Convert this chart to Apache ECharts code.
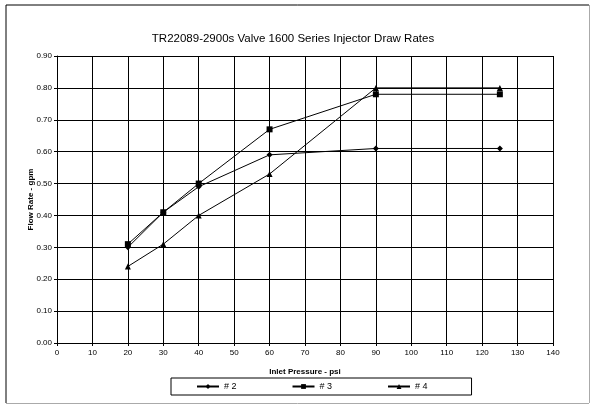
<!DOCTYPE html>
<html>
<head>
<meta charset="utf-8">
<script src="https://cdn.jsdelivr.net/npm/echarts@6/dist/echarts.min.js"></script>
<style>
  html, body { margin: 0; padding: 0; background: #fff; }
  #chart { width: 595px; height: 408px; }
</style>
</head>
<body>
<div id="chart"></div>
<script>
// inlet pressure (psi) for each measured point
const pressure = [20, 30, 40, 60, 90, 125];
// flow rate (gpm) per injector
const flow2 = [0.30, 0.41, 0.49, 0.59, 0.61, 0.61];
const flow3 = [0.31, 0.41, 0.50, 0.67, 0.78, 0.78];
const flow4 = [0.24, 0.31, 0.40, 0.53, 0.80, 0.80];
const seriesNames = ['# 2', '# 3', '# 4'];

const pairs = (ys) => pressure.map((x, i) => [x, ys[i]]);

let chart = echarts.init(document.getElementById('chart'));
const font = 'Liberation Sans, Arial, sans-serif';

function lineSeries(name, data, symbol, size) {
  return {
    name: name,
    type: 'line',
    data: pairs(data),
    symbol: symbol,
    symbolSize: size,
    showAllSymbol: true,
    lineStyle: { color: '#000', width: 1 },
    itemStyle: { color: '#000' },
    animation: false
  };
}

let option = {
  backgroundColor: '#fff',
  animation: false,
  title: {
    text: 'TR22089-2900s Valve 1600 Series Injector Draw Rates',
    left: 288,
    textAlign: 'center',
    top: 28,
    textStyle: { fontFamily: font, fontSize: 11.5, fontWeight: 'normal', color: '#000' }
  },
  legend: {
    data: seriesNames,
    top: 378,
    left: 171,
    borderColor: '#000',
    borderWidth: 1,
    borderRadius: 0,
    padding: [4, 44, 4, 25],
    itemGap: 55,
    itemWidth: 22,
    itemHeight: 6,
    textStyle: { fontFamily: font, fontSize: 9, color: '#000' }
  },
  grid: { left: 57, right: 42, top: 56, bottom: 65 },
  xAxis: {
    type: 'value',
    min: 0, max: 140, interval: 10,
    name: 'Inlet Pressure - psi',
    nameLocation: 'middle',
    nameGap: 25,
    nameMoveOverlap: false,
    nameTextStyle: { fontFamily: font, fontSize: 8, fontWeight: 'bold', color: '#000' },
    axisLine: { lineStyle: { color: '#000', width: 1 } },
    axisTick: { show: true, length: 3, lineStyle: { color: '#000' } },
    axisLabel: { fontFamily: font, fontSize: 8, color: '#000', margin: 6 },
    splitLine: { show: true, lineStyle: { color: '#000', width: 1 } }
  },
  yAxis: {
    type: 'value',
    min: 0, max: 0.9, interval: 0.1,
    name: 'Flow Rate - gpm',
    nameLocation: 'middle',
    nameGap: 22,
    nameMoveOverlap: false,
    nameTextStyle: { fontFamily: font, fontSize: 8, fontWeight: 'bold', color: '#000' },
    axisLine: { show: true, lineStyle: { color: '#000', width: 1 } },
    axisTick: { show: true, length: 3, lineStyle: { color: '#000' } },
    axisLabel: { fontFamily: font, fontSize: 8, color: '#000', margin: 5,
      formatter: (v) => v.toFixed(2) },
    splitLine: { show: true, lineStyle: { color: '#000', width: 1 } }
  },
  graphic: [
    { type: 'line', shape: { x1: 6, y1: 5, x2: 589, y2: 5 }, style: { stroke: '#000', lineWidth: 1 } },
    { type: 'line', shape: { x1: 6, y1: 5, x2: 6, y2: 403 }, style: { stroke: '#000', lineWidth: 1 } },
    { type: 'line', shape: { x1: 6, y1: 403.5, x2: 589, y2: 403.5 }, style: { stroke: '#aaa', lineWidth: 1 } },
    { type: 'line', shape: { x1: 589.5, y1: 5, x2: 589.5, y2: 403 }, style: { stroke: '#aaa', lineWidth: 1 } }
  ],
  series: [
    lineSeries(seriesNames[0], flow2, 'diamond', 6),
    lineSeries(seriesNames[1], flow3, 'rect', 6),
    lineSeries(seriesNames[2], flow4, 'triangle', 6)
  ]
};

option && chart.setOption(option);
</script>
</body>
</html>
